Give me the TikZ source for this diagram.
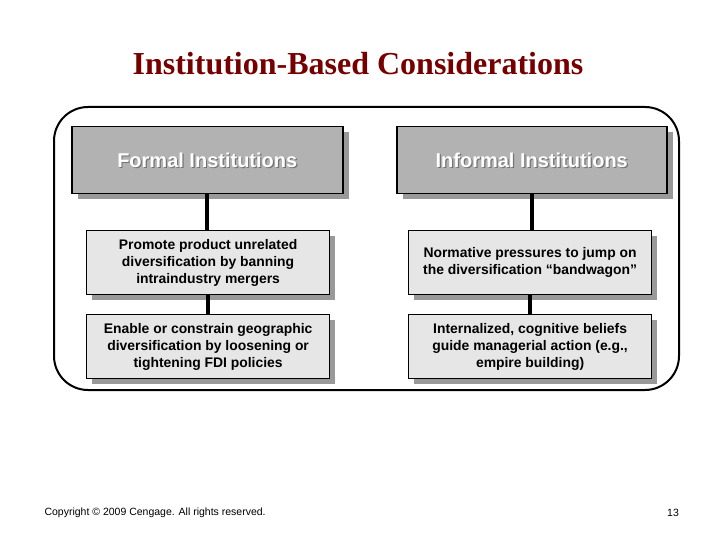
\documentclass[tikz,border=0pt]{standalone}
\usepackage{fontspec}
\setmainfont{Liberation Serif}
\setsansfont{Liberation Sans}
\begin{document}
\begin{tikzpicture}[x=1pt,y=-1pt,
  hdr/.style={draw=black,line width=1.5pt,fill=hdrgray,minimum width=271pt,minimum height=67pt,inner sep=0pt},
  hdrtxt/.style={font=\sffamily\bfseries\fontsize{20}{22}\selectfont,text=white},
  hdrshd/.style={font=\sffamily\bfseries\fontsize{20}{22}\selectfont,text=black!55},
  body/.style={draw=black,line width=1.2pt,fill=bodygray,minimum width=243pt,minimum height=64pt,inner sep=0pt,
     font=\sffamily\bfseries\fontsize{13.9}{17}\selectfont,align=center},
  shad/.style={fill=shadgray,draw=none},
  link/.style={line width=3.5pt,black}]
\definecolor{hdrgray}{HTML}{B2B2B2}
\definecolor{bodygray}{HTML}{E6E6E6}
\definecolor{shadgray}{HTML}{999999}
\definecolor{titlered}{HTML}{760000}
\useasboundingbox (0,0) rectangle (720,540);
\fill[white] (0,0) rectangle (720,540);
\node[font=\bfseries\fontsize{32}{36}\selectfont,text=titlered] (title) at (358,64) {Institution-Based Considerations};
\draw[line width=2pt,rounded corners=34pt] (54,107) rectangle (679,390);
% shadows
\fill[shad] (78,132) rectangle ++(271,67);
\fill[shad] (403,132) rectangle ++(270,67);
\foreach \x/\y in {92/236,92/320,414/236,414/320}{\fill[shad] (\x,\y) rectangle ++(243,64);}
% boxes
\node[hdr,anchor=north west] (fh) at (71,126) {};
\node[hdr,anchor=north west,minimum width=270pt] (ih) at (396,126) {};
\node[hdrshd] (fhs) at ([xshift=1.2pt,yshift=-1.2pt]fh.center) {Formal Institutions};
\node[hdrshd] (ihs) at ([xshift=1.2pt,yshift=-1.2pt]ih.center) {Informal Institutions};
\node[hdrtxt] (fht) at (fh.center) {Formal Institutions};
\node[hdrtxt] (iht) at (ih.center) {Informal Institutions};
\node[body,anchor=north west] (f1) at (86,230) {Promote product unrelated\\diversification by banning\\intraindustry mergers};
\node[body,anchor=north west] (f2) at (86,314) {Enable or constrain geographic\\diversification by loosening or\\tightening FDI policies};
\node[body,anchor=north west] (i1) at (408,230) {Normative pressures to jump on\\the diversification “bandwagon”};
\node[body,anchor=north west] (i2) at (408,314) {Internalized, cognitive beliefs\\guide managerial action (e.g.,\\empire building)};
% connectors
\draw[link] ([xshift=-0.5pt]fh.south) -- ([xshift=-0.5pt]fh.south |- f1.north);
\draw[link] (f1.south) -- (f2.north);
\draw[link] (ih.south) -- (ih.south |- i1.north);
\draw[link] (i1.south) -- (i2.north);
\node[font=\sffamily\fontsize{10.5}{12}\selectfont,anchor=west] (copy) at (41,513) {Copyright © 2009 Cengage. All rights reserved.};
\node[font=\sffamily\fontsize{10.5}{12}\selectfont] (pg) at (673,513) {13};
\end{tikzpicture}
\end{document}
